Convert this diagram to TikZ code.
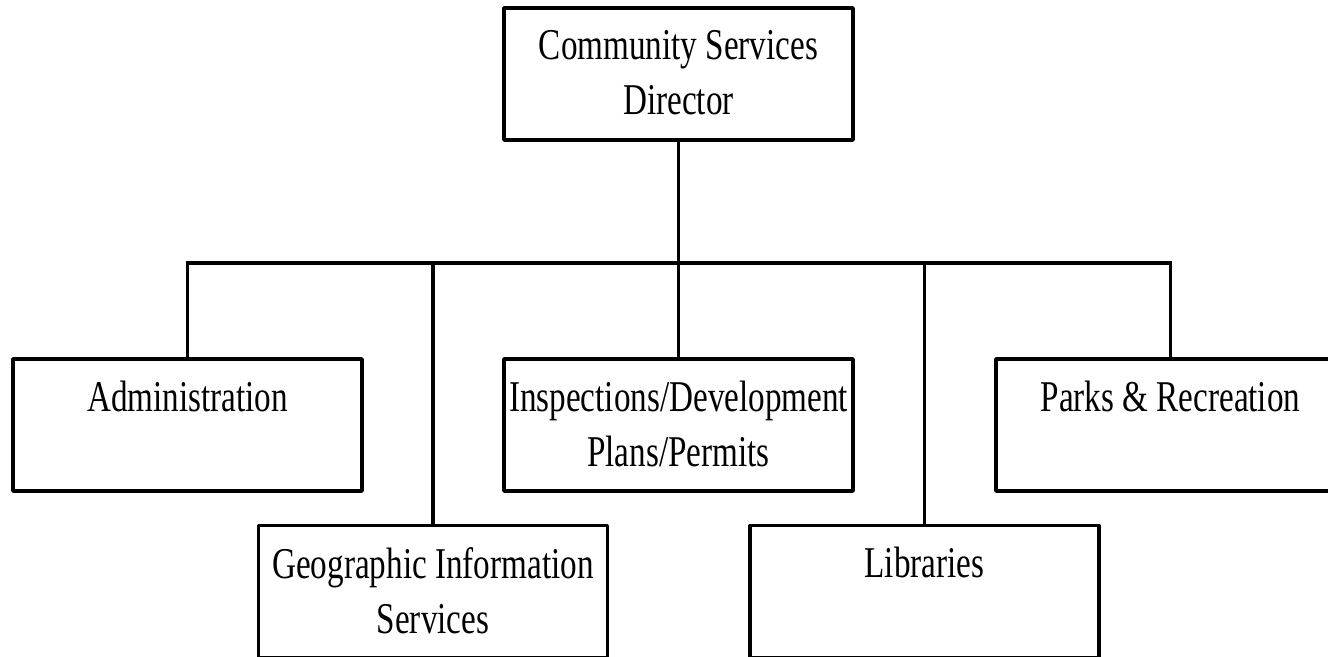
\documentclass[tikz,border=0pt]{standalone}
\usepackage{fontspec}
\setmainfont[FakeStretch=0.755]{Liberation Serif}
\usepackage{tikz}
\usetikzlibrary{positioning}
\newcommand{\unittext}[1]{\parbox[c][2.64cm][t]{6.98cm}{\vspace*{0.44cm}\centering #1}}

\begin{document}
\begin{tikzpicture}[unit/.style={draw, line width=2pt, line join=round, inner sep=0pt, minimum width=6.98cm, minimum height=2.64cm, font=\fontsize{25}{31.3}\selectfont}, link/.style={line width=2pt}]
		\useasboundingbox (0,0) rectangle (26.56,-13.14);
		\node[unit](node0) at (13.570, -1.480) {\unittext{Community Services\\Director}};
		\node[unit](node1) at (3.750, -8.500) {\unittext{Administration}};
		\node[unit](node2) at (8.660, -11.830) {\unittext{Geographic Information\\Services}};
		\node[unit](node3) at (13.570, -8.500) {\unittext{Inspections/Development\\Plans/Permits}};
		\node[unit](node4) at (18.490, -11.830) {\unittext{Libraries}};
		\node[unit](node5) at (23.410, -8.500) {\unittext{Parks \& Recreation}};
		\coordinate (bus) at (13.570, -5.260);
		
		\draw[link] (node0) -- (node3);
		\draw[link] (node1.north) |- (bus) -| (node5.north);
		\draw[link] (node2.north) -- (node2.north |- bus);
		\draw[link] (node4.north) -- (node4.north |- bus);
		\end{tikzpicture}
\end{document}
